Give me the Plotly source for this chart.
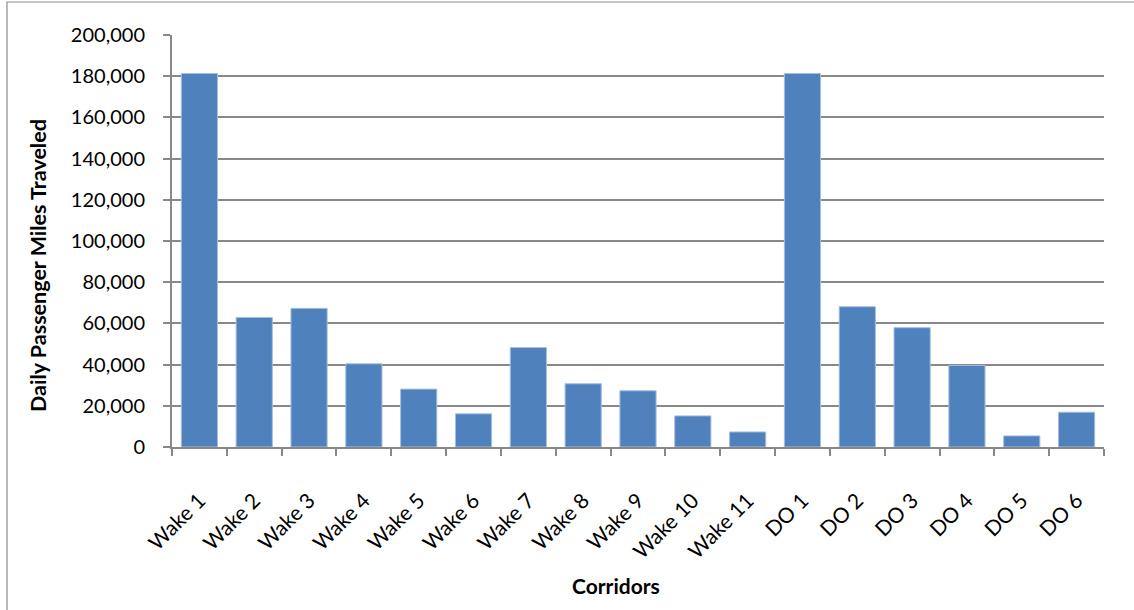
import plotly.graph_objects as go

# Daily passenger miles traveled by corridor
corridors = ["Wake 1", "Wake 2", "Wake 3", "Wake 4", "Wake 5", "Wake 6",
             "Wake 7", "Wake 8", "Wake 9", "Wake 10", "Wake 11",
             "DO 1", "DO 2", "DO 3", "DO 4", "DO 5", "DO 6"]
daily_pmt = [181300, 62900, 67300, 40400, 28100, 16100,
             48300, 30700, 27300, 15100, 7300,
             181300, 68100, 57900, 39600, 5400, 16900]
y_ticks = [0, 20000, 40000, 60000, 80000, 100000, 120000, 140000, 160000, 180000, 200000]

W, H = 1134, 610
L, R, T, B = 172, 30, 35, 163
pw, ph = W - L - R, H - T - B

FONT = "Lato"
GRID = "#888888"

fig = go.Figure(go.Bar(
    x=corridors,
    y=daily_pmt,
    marker=dict(color="#4F81BD", line=dict(color="#A7BEDD", width=1)),
    width=0.66,
))

fig.update_layout(
    width=W, height=H,
    margin=dict(l=L, r=R, t=T, b=B, pad=0),
    paper_bgcolor="white",
    plot_bgcolor="white",
    font=dict(family=FONT, color="black", size=17),
    showlegend=False,
    shapes=[
        # outer chart frame
        dict(type="rect", xref="paper", yref="paper",
             x0=(7 - L) / pw, x1=(W + 20 - L) / pw,
             y0=(T + ph - (H + 20)) / ph, y1=(T + ph - 2) / ph,
             line=dict(color="#8c8c8c", width=1.2), fillcolor="rgba(0,0,0,0)",
             layer="below"),
    ],
    annotations=[
        dict(text="<b>Corridors</b>", xref="paper", yref="paper",
             x=(616 - L) / pw, y=(T + ph - 585) / ph,
             showarrow=False, font=dict(family=FONT, size=21),
             xanchor="center", yanchor="middle"),
        dict(text="<b>Daily Passenger Miles Traveled</b>", xref="paper", yref="paper",
             x=(38 - L) / pw, y=(T + ph - 266) / ph, textangle=-90,
             showarrow=False, font=dict(family=FONT, size=21.5),
             xanchor="center", yanchor="middle"),
    ],
)

fig.update_xaxes(
    type="category",
    showgrid=False,
    showline=True, linecolor=GRID, linewidth=2,
    ticks="outside", tickson="boundaries", ticklen=7, tickcolor=GRID, tickwidth=1.5,
    tickangle=-45,
    tickfont=dict(family=FONT, size=21),
    ticklabelstandoff=31,
)

fig.update_yaxes(
    range=[0, 200000],
    tickvals=y_ticks,
    ticktext=[f"{v:,}" for v in y_ticks],
    showgrid=True, gridcolor=GRID, gridwidth=2,
    showline=True, linecolor=GRID, linewidth=2,
    ticks="outside", ticklen=7, tickcolor=GRID, tickwidth=1.5,
    tickfont=dict(family=FONT, size=20),
    ticklabelstandoff=14,
    zeroline=False,
)

fig.write_html("out.html")
